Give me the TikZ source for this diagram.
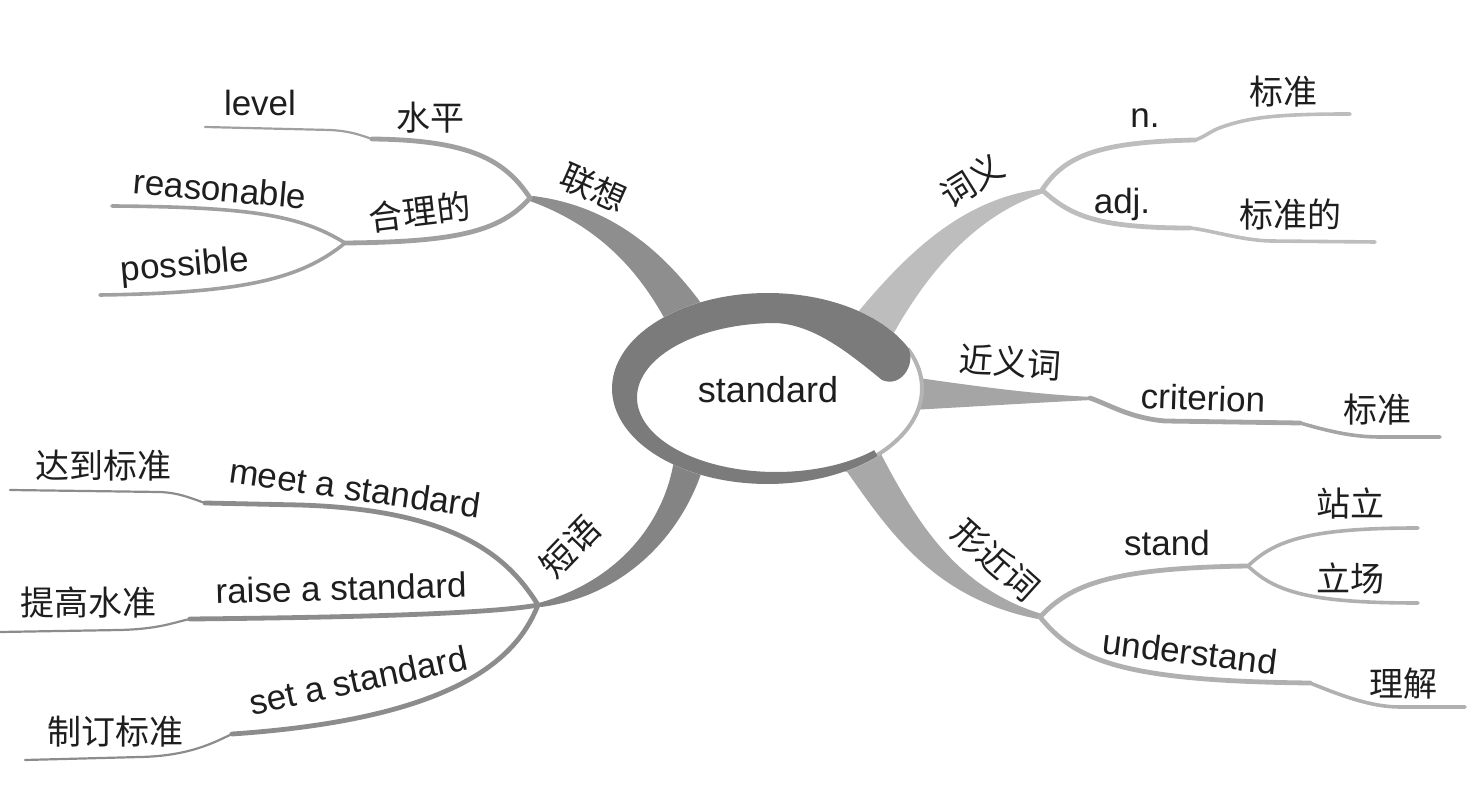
\documentclass[tikz,border=0pt]{standalone}
\usepackage{fontspec}
\setmainfont{Liberation Sans}
\newfontfamily\cjkfont{Noto Sans CJK SC}
\definecolor{ringc}{HTML}{7B7B7B}
\definecolor{rimc}{HTML}{B4B4B4}
\definecolor{ulband}{HTML}{8E8E8E}
\definecolor{ulline}{HTML}{A0A0A0}
\definecolor{urband}{HTML}{BDBDBD}
\definecolor{rband}{HTML}{A5A5A5}
\definecolor{lrband}{HTML}{A8A8A8}
\definecolor{lrline}{HTML}{B0B0B0}
\definecolor{llband}{HTML}{848484}
\definecolor{llline}{HTML}{8C8C8C}
\definecolor{txtc}{HTML}{1E1E1E}
\tikzset{
  lat/.style={font=\fontsize{17.5}{20}\selectfont, inner sep=0pt, text=txtc},
  cjk/.style={font=\cjkfont\fontsize{17}{20}\selectfont, inner sep=0pt, text=txtc},
  thick line/.style={line width=2.4pt, line cap=round, line join=round},
  mid line/.style={line width=1.8pt, line cap=round, line join=round},
  thin line/.style={line width=1.1pt, line cap=round, line join=round},
}
\begin{document}
\begin{tikzpicture}[x=0.5pt,y=-0.5pt]
\useasboundingbox (0,0) rectangle (1483,785);
% junction coordinates
\coordinate (J1) at (530,198);
\coordinate (J2) at (345,243);
\coordinate (J3) at (1042,190);
\coordinate (J7) at (1090,398);
\coordinate (J4) at (1040,617);
\coordinate (J5) at (1248,566);
\coordinate (J6) at (538,605);
% ---------- main tapered branches ----------
\fill[ulband] (527,200) .. controls (590,222) and (635,262) .. (668,325) -- (706,310)
  .. controls (660,245) and (605,205) .. (533,196) -- cycle;
\fill[urband] (1040,189) .. controls (960,200) and (905,255) .. (853,318) -- (890,340)
  .. controls (925,275) and (975,215) .. (1044,193) -- cycle;
\fill[rband] (912,377) .. controls (1000,390) and (1050,395) .. (1092,397) -- (1092,400)
  .. controls (1050,402) and (1000,405) .. (912,410) -- cycle;
\fill[lrband] (843,466) .. controls (885,525) and (930,598) .. (1038,619) -- (1042,614)
  .. controls (962,590) and (920,530) .. (880,452) -- cycle;
\fill[llband] (674,460) .. controls (665,520) and (620,582) .. (535,604) -- (541,607)
  .. controls (620,597) and (680,540) .. (703,468) -- cycle;
% ---------- upper left sub branches ----------
\draw[ulline, thick line] (J1) .. controls (505,160) and (470,140) .. (372,139) coordinate (s1);
\draw[ulline, thin line] (s1) .. controls (360,135) and (350,131) .. (330,130) -- (205,127) coordinate (e1);
\draw[ulline, thick line] (J1) .. controls (500,232) and (455,242) .. (J2);
\draw[ulline, mid line] (J2) .. controls (300,215) and (250,207) .. (112,206) coordinate (e2);
\draw[ulline, mid line] (J2) .. controls (300,280) and (240,293) .. (100,295) coordinate (e3);
% ---------- upper right ----------
\draw[urband, thick line] (J3) .. controls (1065,155) and (1100,142) .. (1195,140) coordinate (s2);
\draw[urband, mid line] (s2) .. controls (1205,137) and (1210,131) .. (1222,127) .. controls (1250,117) and (1280,114) .. (1350,114) coordinate (e4);
\draw[urband, thick line] (J3) .. controls (1070,215) and (1095,228) .. (1190,228) coordinate (s3);
\draw[urband, mid line] (s3) .. controls (1210,230) and (1240,240) .. (1270,241) -- (1375,242) coordinate (e5);
% ---------- right ----------
\draw[rband, thick line] (J7) .. controls (1110,405) and (1130,418) .. (1165,421) -- (1300,423) coordinate (s4);
\draw[rband, mid line] (s4) .. controls (1325,430) and (1350,437) .. (1380,437) -- (1440,437) coordinate (e6);
% ---------- lower right ----------
\draw[lrline, thick line] (J4) .. controls (1070,585) and (1110,568) .. (J5);
\draw[lrline, mid line] (J5) .. controls (1275,540) and (1310,528) .. (1418,528) coordinate (e7);
\draw[lrline, mid line] (J5) .. controls (1275,592) and (1310,603) .. (1418,603) coordinate (e8);
\draw[lrline, thick line] (J4) .. controls (1075,660) and (1120,681) .. (1310,683) coordinate (s5);
\draw[lrline, mid line] (s5) .. controls (1340,695) and (1370,707) .. (1400,707) -- (1465,707) coordinate (e9);
% ---------- lower left ----------
\draw[llline, thick line] (J6) .. controls (510,560) and (460,510) .. (300,505) -- (205,503) coordinate (s6);
\draw[llline, thin line] (s6) .. controls (190,498) and (180,493) .. (160,492) -- (10,490) coordinate (e10);
\draw[llline, thick line] (J6) .. controls (500,612) and (400,617) .. (190,619) coordinate (s7);
\draw[llline, thin line] (s7) .. controls (175,622) and (160,629) .. (120,630) -- (0,632) coordinate (e11);
\draw[llline, thick line] (J6) .. controls (520,650) and (470,718) .. (232,734) coordinate (s8);
\draw[llline, thin line] (s8) .. controls (215,742) and (190,756) .. (140,757) -- (25,760) coordinate (e12);
% ---------- central ellipse ----------
\fill[white] plot[domain=0:360, samples=120] ({767.5+155.5*cos(\x)},{388.5+95.5*sin(\x)}) -- cycle;
\draw[rimc, line width=2pt] plot[domain=-25:60, samples=60] ({767.5+154.5*cos(\x)},{388.5+94.5*sin(\x)});
\fill[ringc] plot[domain=45:335, samples=120] ({767.5+155.5*cos(\x)},{388.5+95.5*sin(\x)})
  .. controls (916,366) and (900,388) .. (882,380)
  .. controls (850,354) and (815,325) .. (776,323)
  -- plot[domain=270:45, samples=120] ({776+139*cos(\x)},{397.5+74.5*sin(\x)}) -- cycle;
\node[lat, font=\fontsize{18}{20}\selectfont] (center) at (768,390) {standard};
% ---------- labels ----------
\node[cjk, rotate=-24] (lx) at (594,188) {联想};
\node[cjk] (sp) at (430,118) {水平};
\node[lat] (level) at (260,103) {level};
\node[cjk, rotate=7] (hld) at (420,212) {合理的};
\node[lat, rotate=-5] (reas) at (220,189) {reasonable};
\node[lat, rotate=5] (poss) at (185,267) {possible};
\node[cjk, rotate=32] (cy) at (972,180) {词义};
\node[lat] (n) at (1145,118) {n.};
\node[cjk] (bz1) at (1283,92) {标准};
\node[lat] (adj) at (1122,204) {adj.};
\node[cjk] (bzd) at (1290,215) {标准的};
\node[cjk, rotate=-4] (jyc) at (1010,362) {近义词};
\node[lat, rotate=-2] (crit) at (1203,398) {criterion};
\node[cjk] (bz2) at (1377,410) {标准};
\node[cjk, rotate=-42] (xjc) at (996,560) {形近词};
\node[lat] (stand) at (1167,543) {stand};
\node[cjk] (zl) at (1350,503) {站立};
\node[cjk] (lc) at (1350,578) {立场};
\node[lat, rotate=-7] (under) at (1190,652) {understand};
\node[cjk] (lj) at (1403,684) {理解};
\node[cjk, rotate=46] (dy) at (570,547) {短语};
\node[lat, rotate=-8] (meet) at (355,488) {meet a standard};
\node[cjk] (ddbz) at (103,466) {达到标准};
\node[lat, rotate=1.5] (raise) at (341,588) {raise a standard};
\node[cjk] (tgsz) at (88,603) {提高水准};
\node[lat, rotate=12] (set) at (358,680) {set a standard};
\node[cjk] (zdbz) at (115,732) {制订标准};
\end{tikzpicture}
\end{document}
